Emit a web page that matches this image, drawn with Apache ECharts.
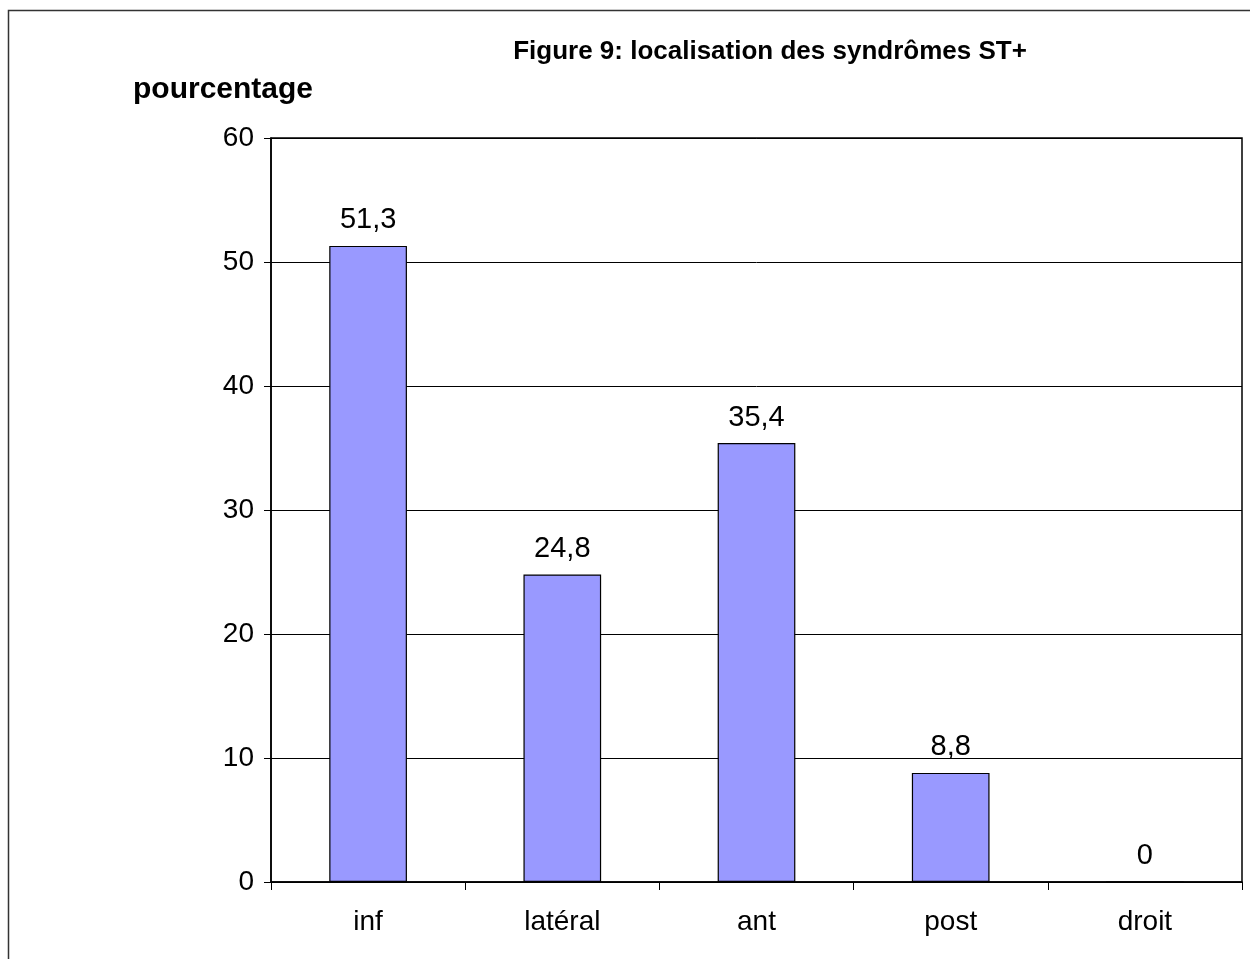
<!DOCTYPE html>
<html>
<head>
<meta charset="utf-8">
<script src="https://cdn.jsdelivr.net/npm/echarts@6/dist/echarts.min.js"></script>
<style>
  html, body { margin: 0; padding: 0; background: #fff; }
  #chart { width: 1250px; height: 959px; }
</style>
</head>
<body>
<div id="chart"></div>
<script>
// Localisation des syndromes ST+ (pourcentage)
const categories = ['inf', 'latéral', 'ant', 'post', 'droit'];
const values = [51.3, 24.8, 35.4, 8.8, 0];
const yTicks = [0, 10, 20, 30, 40, 50, 60];

const FONT = '"Liberation Sans", Arial, sans-serif';

const chart = echarts.init(document.getElementById('chart'), null, { renderer: 'canvas' });

chart.setOption({
  backgroundColor: '#ffffff',
  animation: false,
  graphic: [
    {
      type: 'polyline',
      shape: { points: [[8.5, 959], [8.5, 10.5], [1250, 10.5]] },
      style: { stroke: '#333', lineWidth: 1.5, fill: null },
      silent: true
    },
    {
      type: 'text',
      x: 770, y: 52,
      style: {
        text: 'Figure 9: localisation des syndrômes ST+',
        font: 'bold 26px ' + FONT,
        fill: '#000', textAlign: 'center', textVerticalAlign: 'middle'
      },
      silent: true
    },
    {
      type: 'text',
      x: 133, y: 90,
      style: {
        text: 'pourcentage',
        font: 'bold 30px ' + FONT,
        fill: '#000', textAlign: 'left', textVerticalAlign: 'middle'
      },
      silent: true
    }
  ],
  grid: {
    left: 271, right: 8, top: 138, bottom: 77,
    show: true, borderColor: '#000', borderWidth: 1.5, backgroundColor: 'transparent'
  },
  xAxis: {
    type: 'category',
    data: categories,
    boundaryGap: true,
    axisLine: { lineStyle: { color: '#000', width: 1.5 } },
    axisTick: { show: true, length: 8, inside: false, lineStyle: { color: '#000', width: 1 } },
    axisLabel: { fontFamily: FONT, fontSize: 28, color: '#000', margin: 26 }
  },
  yAxis: {
    type: 'value',
    min: yTicks[0],
    max: yTicks[yTicks.length - 1],
    interval: yTicks[1] - yTicks[0],
    axisLine: { show: true, lineStyle: { color: '#000', width: 1.5 } },
    axisTick: { show: true, length: 7, lineStyle: { color: '#000', width: 1 } },
    axisLabel: { fontFamily: FONT, fontSize: 28, color: '#000', margin: 17 },
    splitLine: { show: true, lineStyle: { color: '#000', width: 1 } }
  },
  series: [
    {
      type: 'bar',
      data: values,
      barWidth: '40%',
      itemStyle: { color: '#9999ff', borderColor: '#000', borderWidth: 1.2 },
      label: {
        show: true,
        position: 'top',
        distance: 11,
        fontFamily: FONT,
        fontSize: 29,
        color: '#000',
        formatter: p => String(p.value).replace('.', ',')
      }
    }
  ]
});
</script>
</body>
</html>
